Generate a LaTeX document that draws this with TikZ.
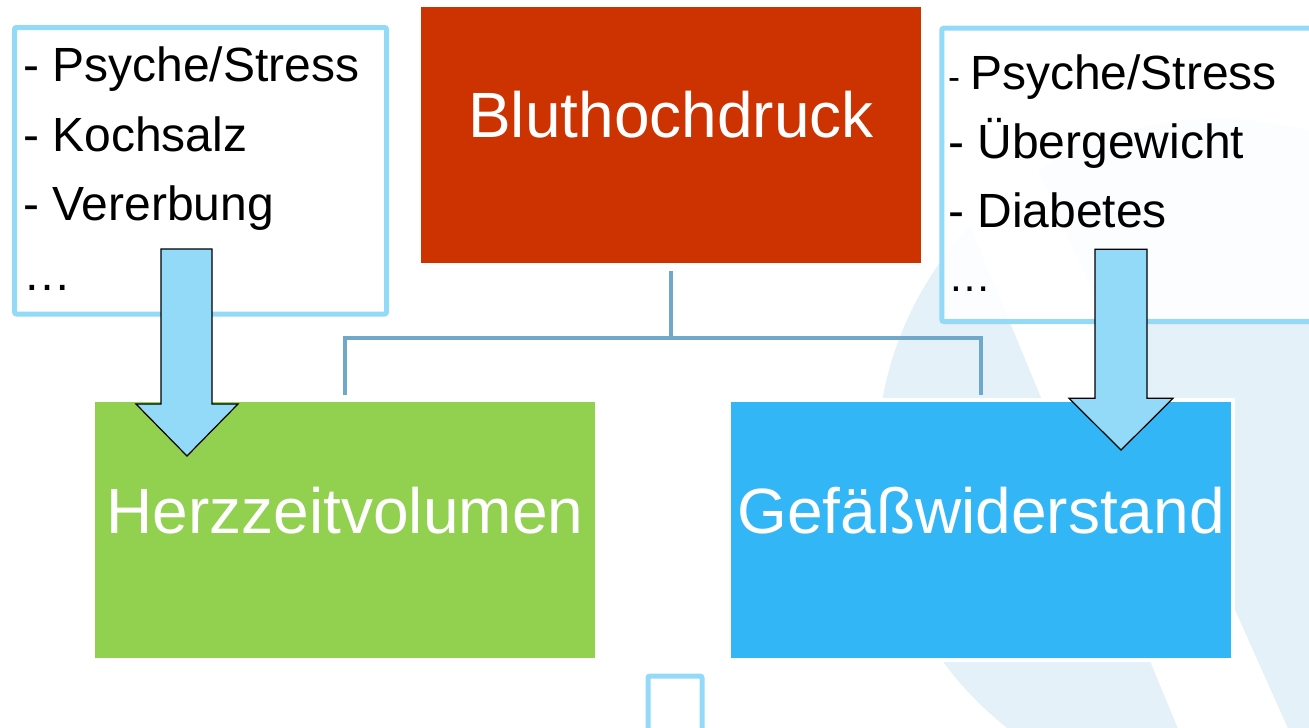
\documentclass[tikz,border=0pt]{standalone}
\usepackage{fontspec}
\setmainfont{Liberation Sans}
\definecolor{redbox}{RGB}{204,51,0}
\definecolor{greenbox}{RGB}{146,208,80}
\definecolor{bluebox}{RGB}{51,182,245}
\definecolor{lightbd}{RGB}{147,217,248}
\definecolor{connc}{RGB}{111,168,200}
\definecolor{pale}{RGB}{228,241,248}
\tikzset{
  bigbox/.style={rectangle, draw=white, line width=4pt, minimum width=504pt, minimum height=260pt,
    text=white, font=\fontsize{64}{76}\selectfont, inner sep=0pt},
  listbox/.style={rectangle, draw=lightbd, line width=5pt, rounded corners=2pt, inner sep=0pt},
  listtext/.style={anchor=base west, inner sep=0pt, font=\fontsize{48}{56}\selectfont},
  conn/.style={draw=connc, line width=4pt},
  blockarrow/.style={fill=lightbd, draw=black, line width=1.2pt, line join=miter},
}
\begin{document}
\begin{tikzpicture}[x=1pt,y=-1pt]
\useasboundingbox (0,0) rectangle (1309,728);
\clip (0,0) rectangle (1309,728);
% background watermark
\fill[pale] (1218,460) circle[radius=341];
\fill[white] (918,100) -- (1007,100) -- (1302,760) -- (1191,760) -- cycle;

% main boxes
\node[bigbox, fill=redbox, text height=50pt, text depth=44.6pt] (bl) at (671,135) {Bluthochdruck};
\node[bigbox, fill=greenbox, text height=50pt, text depth=43pt] (hz) at (345,529.8) {Herzzeitvolumen};
\node[bigbox, fill=bluebox, text height=50pt, text depth=42.4pt] (gw) at (981,529.8) {Gefäßwiderstand};

% tree connectors
\coordinate (j) at (671,338);
\draw[conn] ([yshift=-4pt]bl.south) -- (j);
\draw[conn] (j) -| ([yshift=3pt]hz.north);
\draw[conn] (j) -| ([yshift=3pt]gw.north);

% list boxes
\node[listbox, fill=white, minimum width=372pt, minimum height=286.5pt] (lb) at (200.5,170.75) {};
\node[listbox, fill=white, fill opacity=0.88, draw opacity=1, minimum width=400pt, minimum height=293.3pt] (rb) at (1141.8,174.85) {};

\node[listtext] (l1) at (23,81.7) {- Psyche/Stress};
\node[listtext] (l2) at (23,151.7) {- Kochsalz};
\node[listtext] (l3) at (23,220) {- Vererbung};
\node[listtext] (l4) at (23,290) {…};

\node[listtext] (r1) at (948,89.3) {{\fontsize{36}{40}\selectfont - }Psyche/Stress};
\node[listtext] (r2) at (948,158.3) {- Übergewicht};
\node[listtext] (r3) at (948,227.7) {- Diabetes};
\node[listtext, font=\fontsize{43}{50}\selectfont] (r4) at (948,291.7) {…};

% block arrows
\draw[blockarrow] (161,249) -- (212,249) -- (212,404) -- (238,404) -- (187,456) -- (136,404) -- (161,404) -- cycle;
\draw[blockarrow] (1095,249.3) -- (1147,249.3) -- (1147,398.3) -- (1173,398.3) -- (1121,450) -- (1069,398.3) -- (1095,398.3) -- cycle;

% small square at bottom
\node[listbox, minimum width=54pt, minimum height=70pt] (sq) at (675,711) {};
\end{tikzpicture}
\end{document}
